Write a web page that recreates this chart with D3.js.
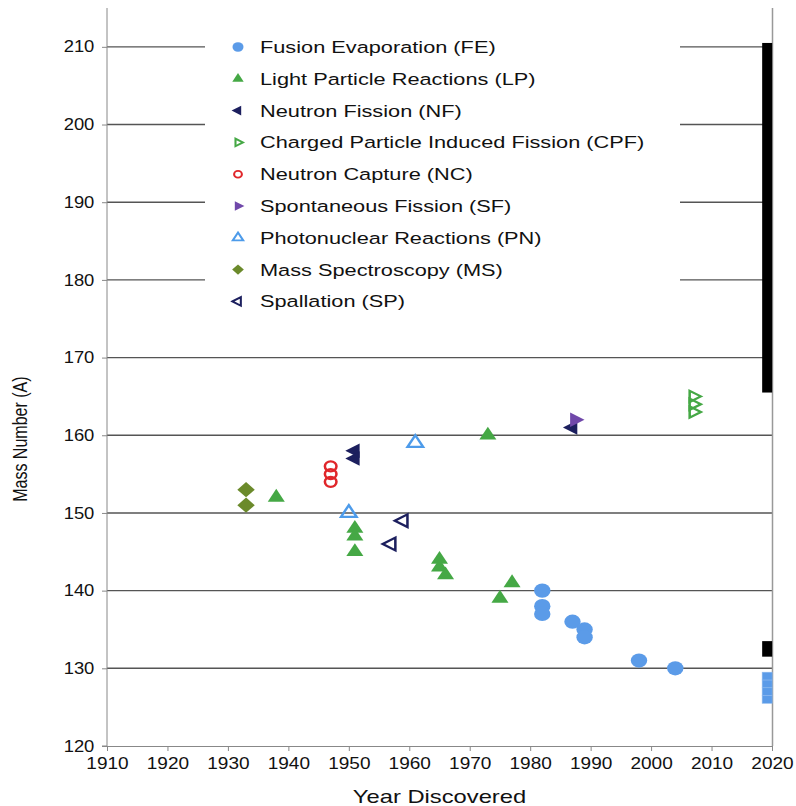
<!DOCTYPE html>
<html>
<head>
<meta charset="utf-8">
<script src="https://cdn.jsdelivr.net/npm/d3@7"></script>
<style>
  body { margin: 0; background: #fff; }
  text { font-family: "Liberation Sans", Arial, sans-serif; fill: #111; }
</style>
</head>
<body>
<div class="chart"></div>
<script>
// tick values
var yearTicks = [1910, 1920, 1930, 1940, 1950, 1960, 1970, 1980, 1990, 2000, 2010, 2020];
var massTicks = [120, 130, 140, 150, 160, 170, 180, 190, 200, 210];

// series data (year, mass number)
var feYear = [1982, 1982, 1982, 1987, 1989, 1989, 1998, 2004];
var feMass = [140, 138, 137, 136, 135, 134, 131, 130];
var lpYear = [1938, 1951, 1951, 1951, 1965, 1965, 1966, 1973, 1975, 1977];
var lpMass = [152, 148, 147, 145, 144, 143, 142, 160, 139, 141];
var nfYear = [1951, 1951, 1987];
var nfMass = [158, 157, 161];
var cpfYear = [2007, 2007, 2007];
var cpfMass = [165, 164, 163];
var ncYear = [1947, 1947, 1947];
var ncMass = [156, 155, 154];
var sfYear = [1987.4];
var sfMass = [162];
var pnYear = [1961, 1950];
var pnMass = [159, 150];
var msYear = [1933, 1933];
var msMass = [153, 151];
var spYear = [1959, 1957];
var spMass = [149, 146];

// undiscovered ranges at the right edge
var edgeYear = 2019.2;
var blackRanges = [[165.5, 210.5], [131.5, 133.5]];
var blueEdgeMass = [126, 127, 128, 129];

var legendLabels = [
	'Fusion Evaporation (FE)',
	'Light Particle Reactions (LP)',
	'Neutron Fission (NF)',
	'Charged Particle Induced Fission (CPF)',
	'Neutron Capture (NC)',
	'Spontaneous Fission (SF)',
	'Photonuclear Reactions (PN)',
	'Mass Spectroscopy (MS)',
	'Spallation (SP)'
];

var margin = { top: 8, right: 24, bottom: 60, left: 107 };
var width = 796 - margin.left - margin.right;
var height = 746 - margin.top;
var sx = 1.25; // horizontal stretch of the source image

var svg = d3.select('.chart')
	.append('svg')
		.attr('width', 796)
		.attr('height', 806)
	.append('g')
		.attr('transform', `translate(${margin.left}, ${margin.top})`);

var xScale = d3.scaleLinear().domain([1910, 2020]).range([0, width]);
var yScale = d3.scaleLinear().domain([120, 215]).range([height, 0]);

var blue = '#5b9be8', green = '#45a845', navy = '#1c1f5e', red = '#e0262a',
	purple = '#7048aa', lblue = '#4d9bea', olive = '#6b8a2b';

var series = [
	{ years: feYear, mass: feMass, type: d3.symbolCircle, size: 160, rot: 0, fill: blue, open: false },
	{ years: lpYear, mass: lpMass, type: d3.symbolTriangle, size: 95, rot: 0, fill: green, open: false },
	{ years: nfYear, mass: nfMass, type: d3.symbolTriangle, size: 90, rot: -90, fill: navy, open: false },
	{ years: cpfYear, mass: cpfMass, type: d3.symbolTriangle, size: 55, rot: 90, fill: green, open: true },
	{ years: ncYear, mass: ncMass, type: d3.symbolCircle, size: 80, rot: 0, fill: red, open: true },
	{ years: sfYear, mass: sfMass, type: d3.symbolTriangle, size: 90, rot: 90, fill: purple, open: false },
	{ years: pnYear, mass: pnMass, type: d3.symbolTriangle, size: 80, rot: 0, fill: lblue, open: true },
	{ years: msYear, mass: msMass, type: d3.symbolSquare, size: 115, rot: 45, fill: olive, open: false },
	{ years: spYear, mass: spMass, type: d3.symbolTriangle, size: 70, rot: -90, fill: navy, open: true }
];

// gridlines
svg.append('g')
	.selectAll('line')
	.data(massTicks.slice(1))
	.enter()
	.append('line')
	.attr('x1', 0)
	.attr('x2', width)
	.attr('y1', d => yScale(d))
	.attr('y2', d => yScale(d))
	.attr('stroke', '#555')
	.attr('stroke-width', 1.4);

// axes
var yAxis = d3.axisLeft(yScale).tickValues(massTicks).tickSize(5).tickPadding(6);
var xAxis = d3.axisBottom(xScale).tickValues(yearTicks).tickFormat(d3.format('d')).tickSize(5).tickPadding(6);

var gy = svg.append('g').call(yAxis);
gy.select('.domain').attr('stroke', '#888').attr('d', `M-5,${height}H0V0`);
gy.selectAll('.tick line').attr('stroke', '#888');
gy.selectAll('.tick text')
	.style('font-size', '16px')
	.attr('transform', 'scale(1.15,1)');

var gx = svg.append('g').attr('transform', `translate(0, ${height})`).call(xAxis);
gx.select('.domain').attr('stroke', '#888');
gx.selectAll('.tick line').attr('stroke', '#888');
gx.selectAll('.tick text')
	.style('font-size', '17px')
	.attr('transform', 'scale(1.12,1)');

// right border
svg.append('line')
	.attr('x1', width + 0.5).attr('x2', width + 0.5)
	.attr('y1', 0).attr('y2', height)
	.attr('stroke', '#999').attr('stroke-width', 1.5);

// axis titles
svg.append('text')
	.attr('transform', `translate(${(width) / 2}, ${height + 57}) scale(${sx},1)`)
	.attr('text-anchor', 'middle')
	.style('font-size', '19px')
	.text('Year Discovered');

svg.append('text')
	.attr('transform', `translate(${-80}, ${yScale(159.5)}) scale(${sx},1) rotate(-90)`)
	.attr('text-anchor', 'middle')
	.style('font-size', '16px')
	.text('Mass Number (A)');

// legend background hides gridlines
svg.append('rect')
	.attr('x', 205 - margin.left)
	.attr('y', 28 - margin.top)
	.attr('width', 475)
	.attr('height', 290)
	.attr('fill', '#fff');

// edge bars
svg.selectAll('.edge')
	.data(blackRanges)
	.enter()
	.append('rect')
	.attr('x', xScale(edgeYear) - 5)
	.attr('y', d => yScale(d[1]))
	.attr('width', 10)
	.attr('height', d => yScale(d[0]) - yScale(d[1]))
	.attr('fill', '#000');

svg.selectAll('.edgeblue')
	.data(blueEdgeMass)
	.enter()
	.append('rect')
	.attr('x', xScale(edgeYear) - 5)
	.attr('y', d => yScale(d + 0.5))
	.attr('width', 10)
	.attr('height', d => yScale(d - 0.5) - yScale(d + 0.5))
	.attr('fill', blue)
	.attr('stroke', '#8bb8ee')
	.attr('stroke-width', 0.6);

// points
function drawMarker(sel, s) {
	sel.attr('d', d3.symbol().type(s.type).size(s.size)())
		.attr('fill', s.open ? 'none' : s.fill)
		.attr('stroke', s.open ? s.fill : 'none')
		.attr('stroke-width', s.open ? 2.2 : 0);
}

series.forEach(function(s) {
	var pts = s.years.map((y, i) => ({ year: y, mass: s.mass[i] }));
	svg.append('g')
		.selectAll('path')
		.data(pts)
		.enter()
		.append('path')
		.call(drawMarker, s)
		.attr('transform', d => `translate(${xScale(d.year)}, ${yScale(d.mass)}) scale(1.15,1) rotate(${s.rot})`);
});

// legend
var legend = svg.append('g')
	.selectAll('g')
	.data(legendLabels)
	.enter()
	.append('g')
	.attr('transform', (d, i) => `translate(${238 - margin.left}, ${47 + i * 31.8 - margin.top})`);

legend.each(function(d, i) {
	var s = series[i];
	d3.select(this).append('path')
		.call(drawMarker, { type: s.type, size: s.size * 0.45, fill: s.fill, open: s.open })
		.attr('stroke-width', s.open ? 1.8 : 0)
		.attr('transform', `scale(1.15,1) rotate(${s.rot})`);
	d3.select(this).append('text')
		.attr('transform', `translate(22, 6) scale(${sx},1)`)
		.style('font-size', '17.4px')
		.text(d);
});
</script>
</body>
</html>
